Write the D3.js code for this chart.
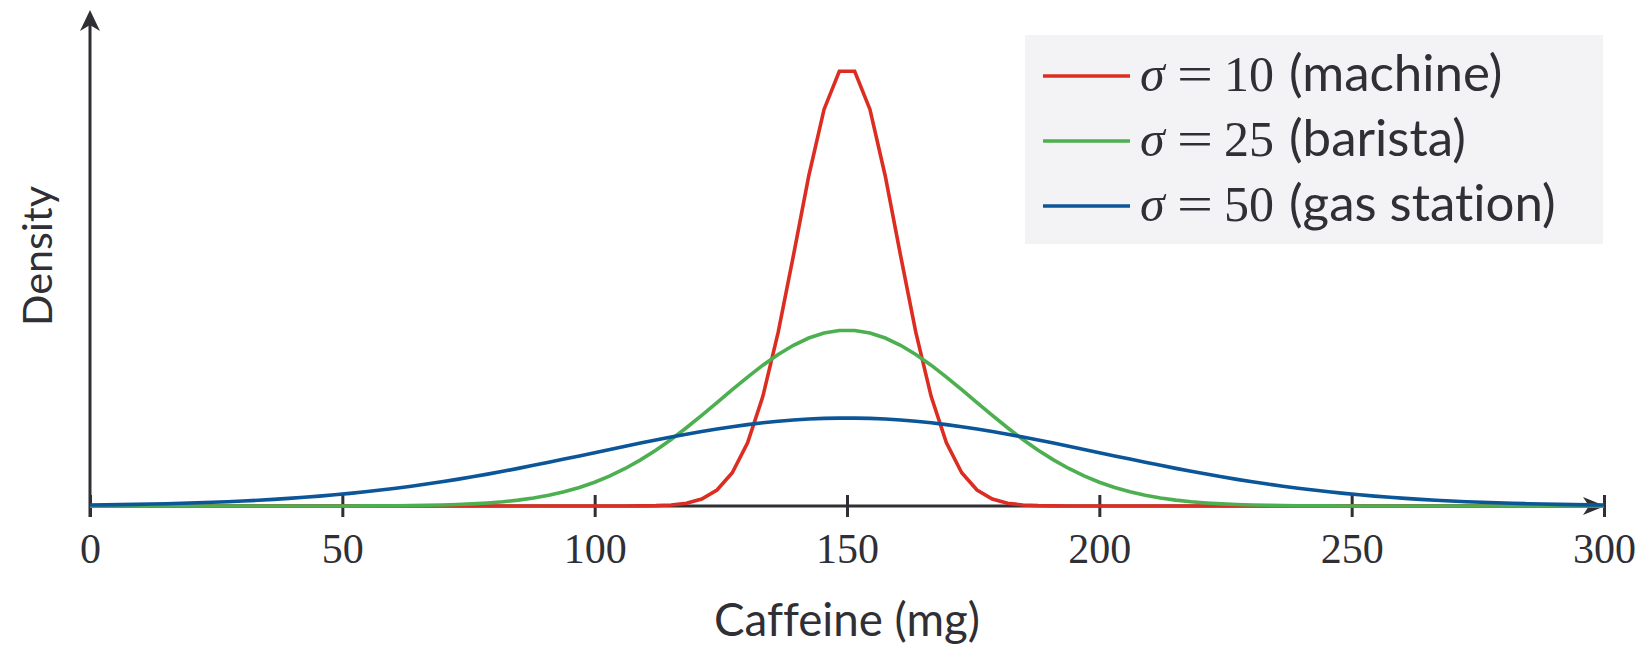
<!DOCTYPE html>
<html>
<head>
<meta charset="utf-8">
<script src="https://cdn.jsdelivr.net/npm/d3@7"></script>
<style>
html,body{margin:0;padding:0;background:#fff;}
svg{display:block;}
text{font-variant-ligatures:none;font-feature-settings:"liga" 0,"clig" 0;}
</style>
</head>
<body>
<svg id="chart" width="1640" height="645"></svg>
<script>
// ---- data ----
const caffeine = [0, 3.03, 6.06, 9.09, 12.12, 15.15, 18.18, 21.21, 24.24, 27.27,
  30.30, 33.33, 36.36, 39.39, 42.42, 45.45, 48.48, 51.52, 54.55, 57.58,
  60.61, 63.64, 66.67, 69.70, 72.73, 75.76, 78.79, 81.82, 84.85, 87.88,
  90.91, 93.94, 96.97, 100, 103.03, 106.06, 109.09, 112.12, 115.15, 118.18,
  121.21, 124.24, 127.27, 130.30, 133.33, 136.36, 139.39, 142.42, 145.45, 148.48,
  151.52, 154.55, 157.58, 160.61, 163.64, 166.67, 169.70, 172.73, 175.76, 178.79,
  181.82, 184.85, 187.88, 190.91, 193.94, 196.97, 200, 203.03, 206.06, 209.09,
  212.12, 215.15, 218.18, 221.21, 224.24, 227.27, 230.30, 233.33, 236.36, 239.39,
  242.42, 245.45, 248.48, 251.52, 254.55, 257.58, 260.61, 263.64, 266.67, 269.70,
  272.73, 275.76, 278.79, 281.82, 284.85, 287.88, 290.91, 293.94, 296.97, 300];

const densityMachine = [0,0,0,0,0,0,0,0,0,0, 0,0,0,0,0,0,0,0,0,0,
  0,0,0,0,0,0,0,0,0,0, 0,0,0,0,0,
  2.56e-6, 9.26e-6, 3.057e-5, 9.201e-5, 0.0002526, 0.0006329, 0.0014462, 0.0030149, 0.0057338, 0.0099482,
  0.015744, 0.022732, 0.029942, 0.035978, 0.039439,
  0.039439, 0.035978, 0.029942, 0.022732, 0.015744, 0.0099482, 0.0057338, 0.0030149, 0.0014462, 0.0006329,
  0.0002526, 9.201e-5, 3.057e-5, 9.26e-6, 2.56e-6,
  0,0,0,0,0, 0,0,0,0,0, 0,0,0,0,0, 0,0,0,0,0, 0,0,0,0,0, 0,0,0,0,0, 0,0,0,0,0];

const densityBarista = [0,0,0,0,0,0,0,0,0,0, 0,0,0,0,
  1.52e-6, 2.54e-6, 4.19e-6, 6.81e-6, 1.090e-5, 1.718e-5, 2.670e-5, 4.089e-5, 6.169e-5, 9.173e-5,
  0.0001344, 0.00019406, 0.0002761, 0.0003871, 0.00053481, 0.00072812, 0.00097681, 0.0012914, 0.0016823, 0.0021596,
  0.002732, 0.0034055, 0.0041833, 0.0050637, 0.00604, 0.0070994, 0.0082231, 0.0093856, 0.010556, 0.0117,
  0.012778, 0.013752, 0.014584, 0.015242, 0.015696, 0.015928,
  0.015928, 0.015696, 0.015242, 0.014584, 0.013752, 0.012778,
  0.0117, 0.010556, 0.0093856, 0.0082231, 0.0070994, 0.00604, 0.0050637, 0.0041833, 0.0034055, 0.002732,
  0.0021596, 0.0016823, 0.0012914, 0.00097681, 0.00072812, 0.00053481, 0.0003871, 0.0002761, 0.00019406, 0.0001344,
  9.173e-5, 6.169e-5, 4.089e-5, 2.670e-5, 1.718e-5, 1.090e-5, 6.81e-6, 4.19e-6, 2.54e-6, 1.52e-6,
  0,0,0,0,0,0,0,0,0,0, 0,0,0,0];

const densityGasStation = [0.0000886, 0.00010612, 0.00012658, 0.00015043, 0.00017812, 0.00021014, 0.00024699, 0.00028925, 0.00033749, 0.00039235,
  0.00045444, 0.00052444, 0.00060299, 0.00069077, 0.00078843, 0.00089657, 0.0010159, 0.0011468, 0.0012898, 0.0014453,
  0.0016137, 0.0017951, 0.0019896, 0.0021971, 0.0024172, 0.0026496, 0.0028938, 0.0031489, 0.003414, 0.0036877,
  0.0039687, 0.0042556, 0.0045465, 0.0048394, 0.0051324, 0.0054231, 0.0057092, 0.0059884, 0.0062583, 0.0065164,
  0.0067601, 0.0069874, 0.0071957, 0.0073832, 0.0075477, 0.0076876, 0.0078013, 0.0078878, 0.0079459, 0.0079752,
  0.0079752, 0.0079459, 0.0078878, 0.0078013, 0.0076876, 0.0075477, 0.0073832, 0.0071957, 0.0069874, 0.0067601,
  0.0065164, 0.0062583, 0.0059884, 0.0057092, 0.0054231, 0.0051324, 0.0048394, 0.0045465, 0.0042556, 0.0039687,
  0.0036877, 0.003414, 0.0031489, 0.0028938, 0.0026496, 0.0024172, 0.0021971, 0.0019896, 0.0017951, 0.0016137,
  0.0014453, 0.0012898, 0.0011468, 0.0010159, 0.00089657, 0.00078843, 0.00069077, 0.00060299, 0.00052444, 0.00045444,
  0.00039235, 0.00033749, 0.00028925, 0.00024699, 0.00021014, 0.00017812, 0.00015043, 0.00012658, 0.00010612, 0.0000886];

const seriesNames = ["machine", "barista", "gas station"];
const sigmaLabels = ["10", "25", "50"];
const seriesColors = ["#dc2d22", "#4caf50", "#0b5599"];
const xTicks = [0, 50, 100, 150, 200, 250, 300];
const xTitle = "Caffeine (mg)";
const yTitle = "Density";

// ---- drawing ----
const svg = d3.select("#chart");
const axisColor = "#2f2f35";
const x = d3.scaleLinear().domain([0, 300]).range([90, 1604]);
const y = d3.scaleLinear().domain([0, 0.045]).range([506, 10]);

const base = y(0), x0 = x(0), xEnd = x(300), yTop = y(0.045);

// x axis ticks and labels
const xAxis = d3.axisBottom(x).tickValues(xTicks).tickFormat(d3.format("d")).tickSizeOuter(0);
const gx = svg.append("g").attr("transform", `translate(0,${base})`).call(xAxis);
gx.select(".domain").remove();
gx.selectAll(".tick line").attr("y1", -11).attr("y2", 11)
  .attr("stroke", axisColor).attr("stroke-width", 3);
gx.selectAll(".tick text").attr("y", 57).attr("dy", null)
  .attr("font-family", "'Liberation Serif', serif").attr("font-size", 42)
  .attr("fill", axisColor);

// axis lines with arrowheads
svg.append("line").attr("x1", x0).attr("x2", x0).attr("y1", base + 11).attr("y2", yTop + 8)
  .attr("stroke", axisColor).attr("stroke-width", 3);
svg.append("line").attr("x1", x0).attr("x2", xEnd - 6).attr("y1", base).attr("y2", base)
  .attr("stroke", axisColor).attr("stroke-width", 3);
svg.append("path")
  .attr("d", `M${x0},${yTop} L${x0 + 10},${yTop + 21} L${x0},${yTop + 15} L${x0 - 10},${yTop + 21} Z`)
  .attr("fill", axisColor);
svg.append("path")
  .attr("d", `M${xEnd + 1},${base} L${xEnd - 21},${base - 9} L${xEnd - 15},${base} L${xEnd - 21},${base + 9} Z`)
  .attr("fill", axisColor);

// curves
const allSeries = [densityMachine, densityBarista, densityGasStation];
const line = d3.line().x((d, i) => x(caffeine[i])).y(d => y(d));
allSeries.forEach((s, k) => {
  svg.append("path").datum(s).attr("d", line)
    .attr("fill", "none").attr("stroke", seriesColors[k])
    .attr("stroke-width", 3.6).attr("stroke-linejoin", "miter").attr("stroke-linecap", "butt");
});

// axis titles (sized to the reference widths)
function fitText(sel, target) {
  const len = sel.node().getComputedTextLength();
  const fs = +sel.attr("font-size");
  if (len > 0) sel.attr("font-size", (fs * target / len).toFixed(2));
}
const xt = svg.append("text").attr("x", 847).attr("y", 636).attr("text-anchor", "middle")
  .attr("font-family", "Lato, sans-serif").attr("font-size", 46).attr("fill", axisColor)
  .text(xTitle);
fitText(xt, 266);
const yt = svg.append("text").attr("transform", "translate(52,256) rotate(-90)").attr("text-anchor", "middle")
  .attr("font-family", "Lato, sans-serif").attr("font-size", 46).attr("fill", axisColor)
  .text(yTitle);
fitText(yt, 140);

// legend
const lg = svg.append("g");
lg.append("rect").attr("x", 1025).attr("y", 35).attr("width", 578).attr("height", 209).attr("fill", "#f3f3f6");
const rowY = [76, 141, 206];
seriesNames.forEach((name, k) => {
  const ry = rowY[k];
  lg.append("line").attr("x1", 1043).attr("x2", 1130).attr("y1", ry).attr("y2", ry)
    .attr("stroke", seriesColors[k]).attr("stroke-width", 3.6);
  const by = ry + 15;
  lg.append("text").attr("x", 1140).attr("y", by).attr("fill", axisColor)
    .attr("font-family", "'Liberation Serif', serif").attr("font-style", "italic").attr("font-size", 50)
    .text("σ");
  lg.append("text").attr("x", 1177).attr("y", by).attr("fill", axisColor)
    .attr("font-family", "'Liberation Serif', serif").attr("font-size", 50)
    .attr("textLength", 36).attr("lengthAdjust", "spacingAndGlyphs")
    .text("=");
  lg.append("text").attr("x", 1224).attr("y", by).attr("fill", axisColor)
    .attr("font-family", "'Liberation Serif', serif").attr("font-size", 50)
    .text(sigmaLabels[k]);
  lg.append("text").attr("x", 1289).attr("y", by).attr("fill", axisColor)
    .attr("font-family", "Lato, sans-serif").attr("font-size", 51)
    .text("(" + name + ")");
});
</script>
</body>
</html>
